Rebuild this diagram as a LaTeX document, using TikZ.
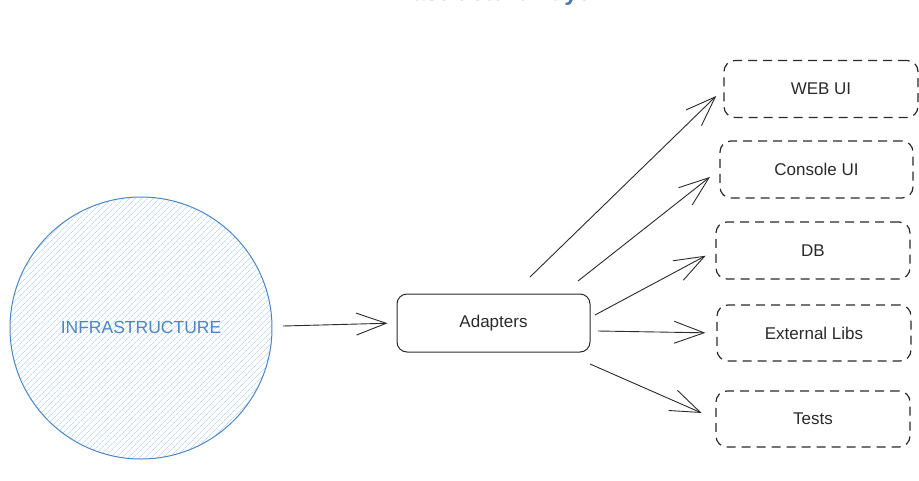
\documentclass[tikz,border=0pt]{standalone}
\usepackage{fontspec}
\setmainfont{Liberation Sans}
\usetikzlibrary{arrows.meta,patterns.meta}
\definecolor{infblue}{HTML}{4A86C8}
\definecolor{hatch}{HTML}{C3D9F0}
\definecolor{titleblue}{HTML}{4A7BA6}
\definecolor{ink}{HTML}{2B2B2B}
\tikzset{
  conn/.style={draw=ink, line width=0.9pt, -{Straight Barb[length=30pt,width=22pt,line width=0.9pt]}},
  solidbox/.style={draw=ink, line width=1pt, rounded corners=10pt, minimum width=193pt, minimum height=58pt, font=\fontsize{17}{20}\selectfont, text=ink},
  dashbox/.style={draw=ink, line width=1.2pt, dash pattern=on 9pt off 6pt, rounded corners=11pt, minimum width=194pt, minimum height=57pt, font=\fontsize{17}{20}\selectfont, text=ink},
}
\begin{document}
\begin{tikzpicture}[x=1pt,y=-1pt]
\useasboundingbox (0,0) rectangle (919,480);
\fill[white] (0,0) rectangle (919,480);
% title (mostly cut off at the top, as in the reference)
\node[anchor=base, text=titleblue, font=\bfseries\fontsize{24}{28}\selectfont, inner sep=0pt] (title) at (487,0.5) {Infrastructure Layer};
% infrastructure circle
\node[circle, draw=infblue, line width=1pt, minimum size=262pt, inner sep=0pt,
      pattern={Lines[angle=45,distance=4pt,line width=0.75pt]}, pattern color=hatch] (infra) at (141,328) {};
\node[text=infblue, font=\fontsize{17.5}{20}\selectfont] (infratext) at (141,327) {INFRASTRUCTURE};
% adapters
\node[solidbox] (adapters) at (493.5,323) {Adapters};
% targets
\node[dashbox] (web) at (821,89) {WEB UI};
\node[dashbox, minimum width=193pt] (console) at (816.5,169.5) {Console UI};
\node[dashbox] (db) at (813,250.5) {DB};
\node[dashbox, minimum height=56pt] (ext) at (814,333) {External Libs};
\node[dashbox, minimum height=56pt] (tests) at (813,419) {Tests};
% connectors
\coordinate (inStart) at (283,326);
\coordinate (s1) at (530,277);
\coordinate (s2) at (578,281);
\coordinate (s3) at (595,315);
\coordinate (s4) at (598,331);
\coordinate (s5) at (590,364);
\draw[conn, shorten >=9pt] (inStart) -- (adapters.west);
\draw[conn, shorten >=10pt] (s1) -- (web.west);
\draw[conn, shorten >=12pt] (s2) -- (console.west);
\draw[conn, shorten >=11pt] (s3) -- (db.west);
\draw[conn, shorten >=11pt] (s4) -- (ext.west);
\draw[conn, shorten >=15pt] (s5) -- (tests.west);
\end{tikzpicture}
\end{document}
